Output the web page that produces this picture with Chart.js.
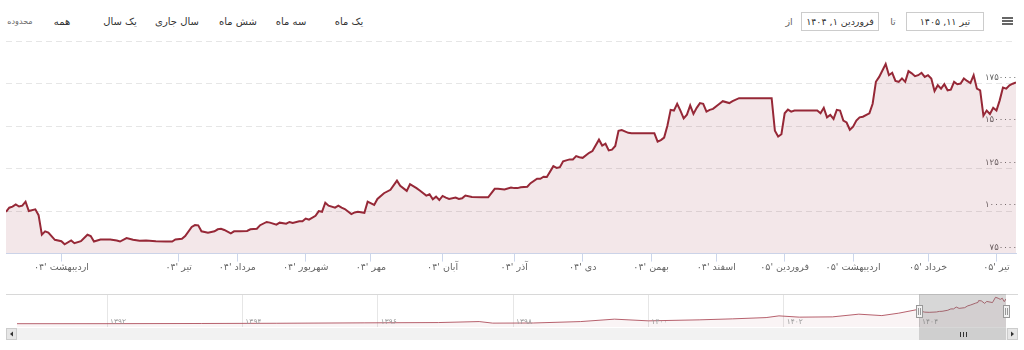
<!DOCTYPE html>
<html><head><meta charset="utf-8">
<script src="https://cdn.jsdelivr.net/npm/chart.js@4.4.1/dist/chart.umd.min.js"></script>
<style>
html,body{margin:0;padding:0;background:#fff;width:1024px;height:350px;overflow:hidden;font-family:"DejaVu Sans",sans-serif;}
#wrap{position:relative;width:1024px;height:350px;}
.btn{position:absolute;top:13px;height:18px;line-height:18px;width:60px;text-align:center;font-size:10px;color:#333;white-space:nowrap;}
.small{font-size:8px;color:#666;}
.box{position:absolute;top:12px;height:19px;width:78px;box-sizing:border-box;border:1px solid #cccccc;background:#fff;text-align:center;font-size:9.5px;line-height:17px;color:#333;white-space:nowrap;}
.lbl{position:absolute;top:13px;height:18px;line-height:18px;width:20px;text-align:center;font-size:9.5px;color:#666;}
.bar{position:absolute;left:1002px;width:11px;height:2px;background:#666;}
canvas{position:absolute;left:0;}
</style></head>
<body><div id="wrap">
<div class="btn small" style="left:-10px">محدوده</div>
<div class="btn" style="left:32px">همه</div>
<div class="btn" style="left:90px">یک سال</div>
<div class="btn" style="left:147px">سال جاری</div>
<div class="btn" style="left:208px">شش ماه</div>
<div class="btn" style="left:261px">سه ماه</div>
<div class="btn" style="left:319px">یک ماه</div>
<div class="lbl" style="left:779px">از</div>
<div class="box" style="left:801px">فروردین ۱, ۱۴۰۴</div>
<div class="lbl" style="left:883px">تا</div>
<div class="box" style="left:906px">تیر ۱۱, ۱۴۰۵</div>
<div class="bar" style="top:17px"></div>
<div class="bar" style="top:20px"></div>
<div class="bar" style="top:23px"></div>
<canvas id="main" width="1024" height="285" style="top:0"></canvas>
<canvas id="nav" width="1024" height="60" style="top:285px"></canvas>
</div>
<script>
// ---- main series (trading-day index on an ordinal axis) ----
const tradingDay = [
  0,1,2,3,4,5,6,7,9,10,
  11,12,13,15,17,18,20,21,23,25,
  26,27,29,32,34,35,37,39,41,43,
  46,49,51,52,54,55,57,58,59,60,
  62,64,65,66,67,69,70,72,74,75,
  77,78,80,81,83,84,86,87,88,90,
  91,92,93,95,96,97,98,99,101,102,
  103,104,106,107,108,110,111,113,114,116,
  118,120,121,123,124,126,127,129,130,131,
  132,133,134,135,136,138,139,140,141,143,
  146,148,150,151,153,155,156,157,158,160,
  161,163,164,165,166,168,169,170,171,173,
  174,175,176,177,179,180,182,183,184,185,
  186,187,188,189,191,192,199,200,201,202,
  203,204,205,206,207,208,209,210,211,212,
  213,214,215,216,217,219,220,222,223,225,
  235,236,237,238,239,240,241,242,249,250,
  251,252,253,254,255,256,257,258,259,260,
  261,262,263,265,266,267,268,270,271,272,
  273,274,275,276,277,278,279,280,281,282,
  283,284,285,286,287,288,289,290,291,292,
  293,294,295,296,297,298,299,300,301,302,
  303,304,305,306,307,308,309,310
];
const closePrice = [
  996000,1020000,1026000,1039000,1027000,1032000,1055000,1000000,1010000,976000,
  861000,881000,873000,831000,823000,805000,827000,811000,823000,861000,
  853000,821000,833000,833000,827000,821000,841000,831000,825000,827000,
  823000,821000,821000,833000,837000,853000,907000,918000,916000,881000,
  873000,881000,893000,896000,889000,869000,881000,881000,883000,893000,
  896000,917000,936000,932000,920000,932000,926000,936000,930000,940000,
  940000,956000,950000,972000,1000000,996000,1049000,1032000,1020000,1032000,
  1020000,1012000,982000,992000,996000,990000,1055000,1036000,1071000,1105000,
  1125000,1179000,1149000,1119000,1158000,1135000,1121000,1091000,1099000,1069000,
  1085000,1065000,1089000,1079000,1071000,1079000,1071000,1075000,1091000,1083000,
  1081000,1081000,1131000,1131000,1127000,1139000,1135000,1135000,1140000,1143000,
  1164000,1190000,1190000,1202000,1200000,1264000,1254000,1258000,1293000,1304000,
  1304000,1323000,1317000,1313000,1343000,1353000,1420000,1385000,1396000,1357000,
  1361000,1383000,1472000,1476000,1460000,1458000,1458000,1408000,1417000,1432000,
  1502000,1595000,1591000,1631000,1591000,1545000,1567000,1621000,1571000,1607000,
  1635000,1631000,1585000,1595000,1601000,1631000,1646000,1635000,1646000,1664000,
  1664000,1472000,1438000,1452000,1575000,1597000,1585000,1591000,1591000,1575000,
  1607000,1551000,1565000,1542000,1595000,1591000,1532000,1521000,1478000,1496000,
  1532000,1551000,1555000,1575000,1631000,1760000,1789000,1865000,1799000,1813000,
  1765000,1760000,1780000,1760000,1823000,1810000,1793000,1799000,1813000,1789000,
  1799000,1780000,1706000,1740000,1720000,1746000,1710000,1714000,1760000,1746000,
  1750000,1780000,1765000,1753000,1799000,1720000,1710000,1561000,1591000,1571000,
  1607000,1591000,1651000,1726000,1720000,1740000,1749000,1756000
];
const lastDay = 310;
const monthTickDay = [17,53,71,92,112,134,156,177,198,218,239,260,283,304];
const monthTickLabel = ["اردیبهشت '۰۴","تیر '۰۴","مرداد '۰۴","شهریور '۰۴","مهر '۰۴","آبان '۰۴","آذر '۰۴","دی '۰۴","بهمن '۰۴","اسفند '۰۴","فروردین '۰۵","اردیبهشت '۰۵","خرداد '۰۵","تیر '۰۵"];
const yMin = 750000, yMax = 2000000, yStep = 250000;

// ---- navigator series (calendar years) ----
const navYear = [
  1390.67,1392.0,1393.4,1394.5,1395.8,1396.9,1397.5,1397.7,1398.3,1399.0,
  1399.5,1400.0,1400.75,1401.24,1401.74,1401.93,1402.23,1402.72,1403.11,1403.45,
  1403.7,1403.97,1404.03,1404.05,1404.085,1404.15,1404.255,1404.30,1404.34,1404.425,
  1404.47,1404.51,1404.55,1404.592,1404.674,1404.72,1404.756,1404.838,1404.87,1404.88,
  1404.92,1404.97,1405.0,1405.085,1405.13,1405.17,1405.2,1405.23,1405.255,1405.26,1405.285
];
const navPrice = [
  10000,12000,25000,40000,70000,90000,160000,50000,60000,160000,
  330000,210000,280000,350000,440000,560000,470000,490000,680000,580000,
  750000,1000000,1050000,860000,823000,810000,833000,873000,881000,956000,
  1049000,1050000,1179000,1089000,1135000,1264000,1313000,1458000,1502000,1631000,
  1615000,1438000,1575000,1496000,1865000,1799000,1720000,1799000,1591000,1561000,1756000
];
const navYearTicks = [1392,1394,1396,1398,1400,1402,1404];
const rangeStart = 1404.0, rangeEnd = 1405.285;

const toFa = s => String(s).replace(/\d/g, d => '۰۱۲۳۴۵۶۷۸۹'[d]);
const FONT = '"DejaVu Sans", sans-serif';
Chart.defaults.font.family = FONT;
Chart.defaults.color = '#666';

const LINE = 'rgb(150,40,55)';

new Chart(document.getElementById('main'), {
  type: 'line',
  data: { datasets: [{
    data: tradingDay.map((d, i) => ({x: d, y: closePrice[i]})),
    borderColor: LINE, borderWidth: 2, pointRadius: 0, tension: 0,
    fill: 'start', backgroundColor: 'rgba(150,40,55,0.11)'
  }]},
  options: {
    responsive: false, animation: false, devicePixelRatio: 1,
    layout: { padding: { left: 6, right: 6, top: 41, bottom: 12 } },
    plugins: { legend: { display: false }, tooltip: { enabled: false } },
    scales: {
      x: {
        type: 'linear', min: 0, max: lastDay,
        afterBuildTicks: s => { s.ticks = monthTickDay.map(v => ({value: v})); },
        ticks: { autoSkip: false, maxRotation: 0, padding: 0, color: '#666', font: { size: 9.5 },
          callback: v => { const i = monthTickDay.indexOf(v); return i >= 0 ? monthTickLabel[i] : ''; } },
        grid: { drawOnChartArea: false, drawTicks: true, tickLength: 8, color: '#ccd6eb' },
        border: { display: true, color: '#ccd6eb' }
      },
      y: {
        position: 'right', min: yMin, max: yMax,
        ticks: { stepSize: yStep, mirror: true, padding: 1, labelOffset: -6, color: '#666', font: { size: 8.5 },
          callback: v => v >= yMax ? '' : toFa(v) },
        grid: { color: '#e6e6e6', drawTicks: false },
        border: { display: false, dash: [6, 4] }
      }
    }
  }
});

const navDecor = {
  id: 'navDecor',
  afterDraw(chart) {
    const {ctx, chartArea: a, scales: {x}} = chart;
    const x0 = Math.round(x.getPixelForValue(rangeStart)), x1 = Math.round(x.getPixelForValue(rangeEnd));
    ctx.save();
    ctx.font = '7.5px ' + FONT; ctx.fillStyle = '#999'; ctx.textAlign = 'left'; ctx.textBaseline = 'alphabetic';
    navYearTicks.forEach(y => ctx.fillText(toFa(y), x.getPixelForValue(y) + 3, a.bottom - 3));
    ctx.strokeStyle = '#d8d8d8'; ctx.lineWidth = 1;
    ctx.beginPath(); ctx.moveTo(6, a.top + 0.5); ctx.lineTo(1018, a.top + 0.5); ctx.stroke();
    ctx.fillStyle = 'rgba(110,110,110,0.28)';
    ctx.fillRect(x0, a.top, x1 - x0, a.bottom - a.top + 1);
    const sy = a.bottom + 1, sh = 12;
    ctx.fillStyle = '#f2f2f2'; ctx.fillRect(6, sy, 1012, sh);
    ctx.fillStyle = '#cfcfcf'; ctx.fillRect(x0, sy, x1 - x0, sh);
    ctx.strokeStyle = '#333'; ctx.beginPath();
    const gx = Math.round((x0 + x1) / 2);
    [-3, 0, 3].forEach(o => { ctx.moveTo(gx + o + 0.5, sy + 4); ctx.lineTo(gx + o + 0.5, sy + 9); });
    ctx.stroke();
    // buttons
    [[6, -1], [1007, 1]].forEach(([bx, dir]) => {
      ctx.fillStyle = '#e6e6e6'; ctx.fillRect(bx, sy, 11, sh);
      ctx.strokeStyle = '#cccccc'; ctx.strokeRect(bx + 0.5, sy + 0.5, 10, sh - 1);
      ctx.fillStyle = '#333'; ctx.beginPath();
      const cx = bx + 5.5, cy = sy + 6;
      ctx.moveTo(cx + 1.5 * dir, cy); ctx.lineTo(cx - 1.5 * dir, cy - 2.5); ctx.lineTo(cx - 1.5 * dir, cy + 2.5); ctx.closePath(); ctx.fill();
    });
    // handles
    const hy = Math.round((a.top + a.bottom) / 2) - 6;
    [x0, x1].forEach(hx => {
      ctx.fillStyle = '#f2f2f2'; ctx.fillRect(hx - 3, hy, 7, 13);
      ctx.strokeStyle = '#999'; ctx.strokeRect(hx - 3 + 0.5, hy + 0.5, 6, 12);
      ctx.beginPath(); ctx.moveTo(hx - 0.5, hy + 3); ctx.lineTo(hx - 0.5, hy + 10);
      ctx.moveTo(hx + 1.5, hy + 3); ctx.lineTo(hx + 1.5, hy + 10); ctx.stroke();
    });
    ctx.restore();
  }
};

const lo = Math.min(...navPrice), hi = Math.max(...navPrice), pad = (hi - lo) * 0.125;
new Chart(document.getElementById('nav'), {
  type: 'line',
  data: { datasets: [{
    data: navYear.map((y, i) => ({x: y, y: navPrice[i]})),
    borderColor: 'rgba(170,70,85,0.85)', borderWidth: 1, pointRadius: 0, tension: 0,
    fill: 'start', backgroundColor: 'rgba(150,40,55,0.05)'
  }]},
  options: {
    responsive: false, animation: false, devicePixelRatio: 1,
    layout: { padding: { left: 17, right: 18, top: 9, bottom: 18 } },
    plugins: { legend: { display: false }, tooltip: { enabled: false } },
    scales: {
      x: { type: 'linear', min: navYear[0], max: rangeEnd,
        afterBuildTicks: s => { s.ticks = navYearTicks.map(v => ({value: v})); },
        ticks: { display: false }, grid: { color: '#e6e6e6', drawTicks: false }, border: { display: false } },
      y: { display: false, min: lo - pad, max: hi + pad }
    }
  },
  plugins: [navDecor]
});
</script>
</body></html>
